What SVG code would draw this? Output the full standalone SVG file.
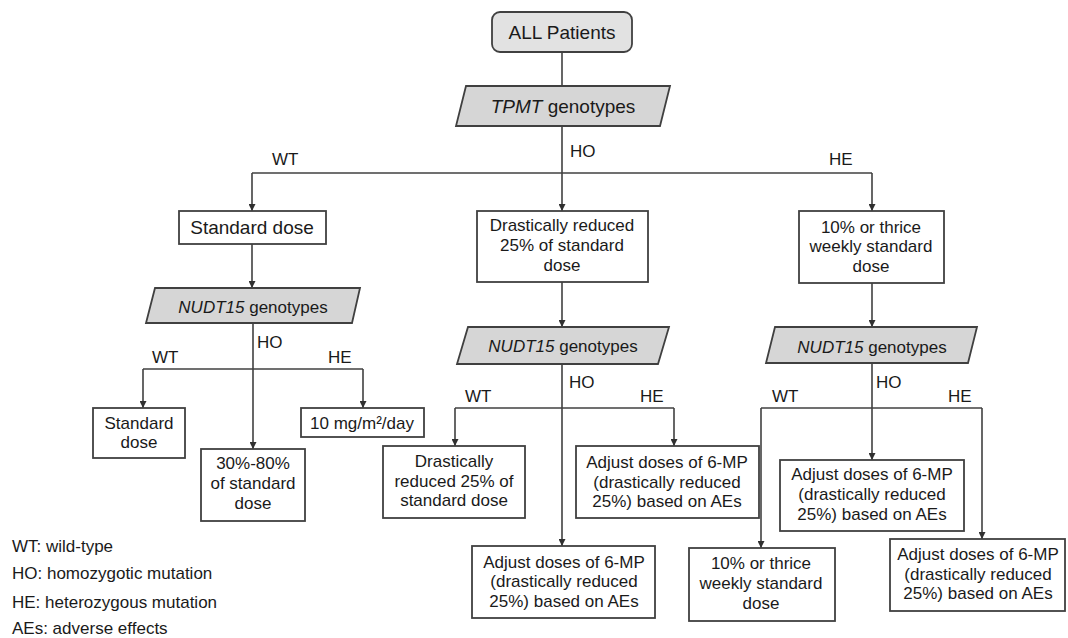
<svg xmlns="http://www.w3.org/2000/svg" width="1068" height="638" viewBox="0 0 1068 638">
<style>
text{font-family:"Liberation Sans",Arial,sans-serif;fill:#1a1a1a;}
.box{fill:#ffffff;stroke:#404040;stroke-width:1.8;}
.para{fill:#d6d6d6;stroke:#404040;stroke-width:1.8;}
.start{fill:#e2e2e2;stroke:#404040;stroke-width:1.8;}
.t19{font-size:19px;text-anchor:middle;}
.t17{font-size:17px;text-anchor:middle;}
.lbl{font-size:17px;}
.leg{font-size:17px;}
.ln{fill:none;stroke:#404040;stroke-width:1.6;}
.ar{fill:none;stroke:#404040;stroke-width:1.6;marker-end:url(#ah);}
</style>
<defs>
<marker id="ah" viewBox="0 0 10 10" refX="10" refY="5" markerWidth="7" markerHeight="7" markerUnits="userSpaceOnUse" orient="auto">
<path d="M0,0 L10,5 L0,10 z" fill="#303030"/>
</marker>
</defs>
<rect width="1068" height="638" fill="#ffffff"/>

<g id="connectors">
<path class="ln" d="M562,52 V86"/>
<path class="ar" d="M562,126 V211"/>
<path class="ln" d="M252,173 H872"/>
<path class="ar" d="M252,173 V211"/>
<path class="ar" d="M872,173 V211"/>
<path class="ar" d="M252,244 V288"/>
<path class="ar" d="M562,282 V327"/>
<path class="ar" d="M872,283 V327"/>
<path class="ar" d="M253,323 V449"/>
<path class="ln" d="M143,369 H363"/>
<path class="ar" d="M143,369 V408"/>
<path class="ar" d="M363,369 V408"/>
<path class="ar" d="M562,364 V546"/>
<path class="ln" d="M455,408 H674"/>
<path class="ar" d="M455,408 V446"/>
<path class="ar" d="M674,408 V446"/>
<path class="ar" d="M872,363 V460"/>
<path class="ln" d="M761,408 H982"/>
<path class="ar" d="M761,408 V548"/>
<path class="ar" d="M982,408 V539"/>
</g>

<g id="labels">
<text class="lbl" x="272" y="165">WT</text>
<text class="lbl" x="570" y="157">HO</text>
<text class="lbl" x="829" y="165">HE</text>
<text class="lbl" x="257" y="348">HO</text>
<text class="lbl" x="152" y="363">WT</text>
<text class="lbl" x="328" y="363">HE</text>
<text class="lbl" x="569" y="388">HO</text>
<text class="lbl" x="465" y="402">WT</text>
<text class="lbl" x="640" y="402">HE</text>
<text class="lbl" x="876" y="388">HO</text>
<text class="lbl" x="772" y="402">WT</text>
<text class="lbl" x="948" y="402">HE</text>
</g>

<g id="all-patients">
<rect class="start" x="492" y="12" width="140" height="40" rx="8"/>
<text class="t19" x="562" y="39">ALL Patients</text>
</g>

<g id="tpmt">
<polygon class="para" points="466,86 670,86 660,126 456,126"/>
<text class="t19" x="563" y="113"><tspan font-style="italic">TPMT</tspan> genotypes</text>
</g>

<g id="wt-standard">
<rect class="box" x="179" y="211" width="147" height="33"/>
<text class="t19" x="252" y="234">Standard dose</text>
</g>

<g id="ho-drastic">
<rect class="box" x="477" y="211" width="171" height="71"/>
<text class="t17" x="562" y="231">Drastically reduced</text>
<text class="t17" x="562" y="251">25% of standard</text>
<text class="t17" x="562" y="271">dose</text>
</g>

<g id="he-ten">
<rect class="box" x="799" y="211" width="145" height="72"/>
<text class="t17" x="871" y="233">10% or thrice</text>
<text class="t17" x="871" y="252">weekly standard</text>
<text class="t17" x="871" y="272">dose</text>
</g>

<g id="nudt-left">
<polygon class="para" points="155,288 360,288 352,323 146,323"/>
<text class="t17" x="253" y="313"><tspan font-style="italic">NUDT15</tspan> genotypes</text>
</g>

<g id="nudt-mid">
<polygon class="para" points="468,327 669,327 658,364 457,364"/>
<text class="t17" x="563" y="352"><tspan font-style="italic">NUDT15</tspan> genotypes</text>
</g>

<g id="nudt-right">
<polygon class="para" points="775,327 977,327 968,363 766,363"/>
<text class="t17" x="872" y="353"><tspan font-style="italic">NUDT15</tspan> genotypes</text>
</g>

<g id="l-wt">
<rect class="box" x="93" y="408" width="92" height="50"/>
<text class="t17" x="139" y="429">Standard</text>
<text class="t17" x="139" y="448">dose</text>
</g>

<g id="l-ho">
<rect class="box" x="201" y="449" width="104" height="72"/>
<text class="t17" x="253" y="469">30%-80%</text>
<text class="t17" x="253" y="489">of standard</text>
<text class="t17" x="253" y="509">dose</text>
</g>

<g id="l-he">
<rect class="box" x="301" y="408" width="123" height="29"/>
<text class="t17" x="362" y="429">10 mg/m²/day</text>
</g>

<g id="m-wt">
<rect class="box" x="383" y="446" width="142" height="72"/>
<text class="t17" x="454" y="467">Drastically</text>
<text class="t17" x="454" y="487">reduced 25% of</text>
<text class="t17" x="454" y="506">standard dose</text>
</g>

<g id="m-he">
<rect class="box" x="576" y="446" width="183" height="72"/>
<text class="t17" x="667" y="468">Adjust doses of 6-MP</text>
<text class="t17" x="667" y="488">(drastically reduced</text>
<text class="t17" x="667" y="507">25%) based on AEs</text>
</g>

<g id="m-ho">
<rect class="box" x="472" y="546" width="183" height="72"/>
<text class="t17" x="564" y="568">Adjust doses of 6-MP</text>
<text class="t17" x="564" y="587">(drastically reduced</text>
<text class="t17" x="564" y="607">25%) based on AEs</text>
</g>

<g id="r-wt">
<rect class="box" x="689" y="548" width="146" height="73"/>
<text class="t17" x="761" y="569">10% or thrice</text>
<text class="t17" x="761" y="589">weekly standard</text>
<text class="t17" x="761" y="609">dose</text>
</g>

<g id="r-ho">
<rect class="box" x="780" y="460" width="184" height="71"/>
<text class="t17" x="872" y="480">Adjust doses of 6-MP</text>
<text class="t17" x="872" y="500">(drastically reduced</text>
<text class="t17" x="872" y="520">25%) based on AEs</text>
</g>

<g id="r-he">
<rect class="box" x="890" y="539" width="175" height="72"/>
<text class="t17" x="978" y="560">Adjust doses of 6-MP</text>
<text class="t17" x="978" y="580">(drastically reduced</text>
<text class="t17" x="978" y="599">25%) based on AEs</text>
</g>

<g id="legend">
<text class="leg" x="12" y="552">WT: wild-type</text>
<text class="leg" x="12" y="579">HO: homozygotic mutation</text>
<text class="leg" x="12" y="608">HE: heterozygous mutation</text>
<text class="leg" x="12" y="634">AEs: adverse effects</text>
</g>
</svg>
